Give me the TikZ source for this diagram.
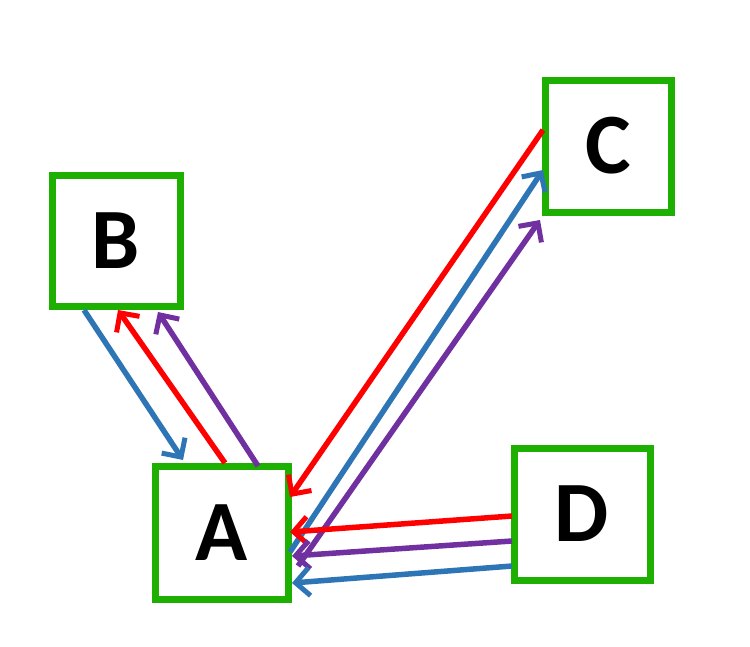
\documentclass[tikz,border=0pt]{standalone}
\usepackage{fontspec}
\setmainfont{Carlito}
\usetikzlibrary{arrows.meta}
\definecolor{gbox}{RGB}{30,176,0}
\definecolor{cred}{RGB}{255,0,0}
\definecolor{cblue}{RGB}{46,117,182}
\definecolor{cpurple}{RGB}{112,48,160}
\tikzset{
  box/.style={draw=gbox,line width=7pt,fill=white,inner sep=0pt},
  conn/.style={line width=5.5pt,-{Straight Barb[length=14pt,width=28pt,line width=5pt]}}
}
\begin{document}
\begin{tikzpicture}[x=1pt,y=-1pt]
\useasboundingbox (0,0) rectangle (750,646);
\node[box,minimum width=133pt,minimum height=133pt] (A) at (221.5,532.5) {\fontsize{86}{86}\selectfont\bfseries A};
\node[box,minimum width=128pt,minimum height=131pt] (B) at (116,240.5) {\fontsize{86}{86}\selectfont\bfseries B};
\node[box,minimum width=126pt,minimum height=132pt] (C) at (608,146) {\fontsize{86}{86}\selectfont\bfseries C};
\node[box,minimum width=136pt,minimum height=132pt] (D) at (582,514) {\fontsize{86}{86}\selectfont\bfseries D};
\coordinate (b1) at (84,310); \coordinate (a1) at (183,460);
\coordinate (a2) at (225,463); \coordinate (b2) at (118,310);
\coordinate (a3) at (258,466); \coordinate (b3) at (158,312);
\coordinate (c4) at (543,130); \coordinate (a4) at (290,497);
\coordinate (a5) at (290,552); \coordinate (c5) at (543,170);
\coordinate (a6) at (298,566); \coordinate (c6) at (540,220);
\coordinate (d7) at (512,516); \coordinate (a7) at (290,532);
\coordinate (d8) at (512,541); \coordinate (a8) at (292,556);
\coordinate (d9) at (512,566); \coordinate (a9) at (292,583);
\draw[conn,cblue] (b1) -- (a1);
\draw[conn,cred] (a2) -- (b2);
\draw[conn,cpurple] (a3) -- (b3);
\draw[conn,cred] (c4) -- (a4);
\draw[conn,cblue] (a5) -- (c5);
\draw[conn,cpurple] (a6) -- (c6);
\draw[conn,cred] (d7) -- (a7);
\draw[conn,cpurple] (d8) -- (a8);
\draw[conn,cblue] (d9) -- (a9);
\end{tikzpicture}
\end{document}
